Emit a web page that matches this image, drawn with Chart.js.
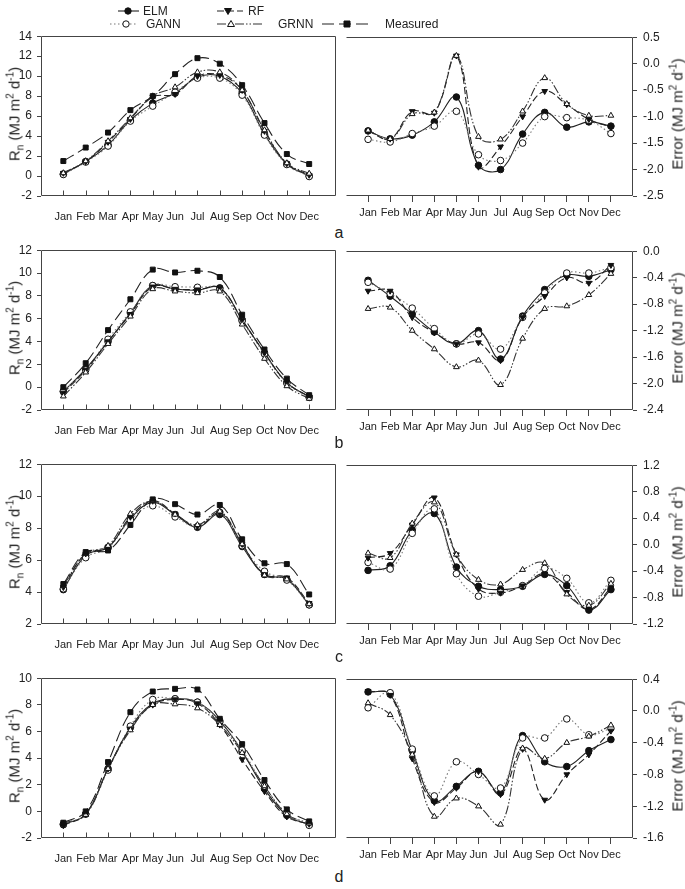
<!DOCTYPE html>
<html>
<head>
<meta charset="utf-8">
<script src="https://cdn.jsdelivr.net/npm/chart.js@4/dist/chart.umd.min.js"></script>
<style>
body { margin:0; background:#fff; }
#page { position:relative; width:685px; height:889px; font-family:"Liberation Sans", Arial, sans-serif; color:#222; overflow:hidden; }
#page canvas { position:absolute; }
.ytitle { position:absolute; transform:translate(-50%,-50%) rotate(-90deg); white-space:nowrap; font-size:15px; line-height:15px; }
.ytitle sub, .ytitle sup { font-size:10px; line-height:0; }
.tag { position:absolute; font-size:16px; transform:translate(-50%,-50%); }
.leg { position:absolute; font-size:12px; transform:translateY(-50%); }
</style>
</head>
<body>
<div id="page"></div>
<script>
var months = ["Jan","Feb","Mar","Apr","May","Jun","Jul","Aug","Sep","Oct","Nov","Dec"];

// panel a
var aRnMeasured = [1.5, 2.85, 4.35, 6.6, 8.0, 10.2, 11.8, 11.25, 9.1, 5.3, 2.2, 1.2];
var aRnELM      = [0.2, 1.45, 3.1, 5.6, 7.3, 8.3, 9.9, 10.0, 8.3, 4.2, 1.2, 0.0];
var aRnGANN     = [0.15, 1.4, 3.0, 5.5, 7.0, 8.4, 9.8, 9.8, 8.1, 4.1, 1.15, -0.05];
var aRnRF       = [0.3, 1.45, 3.4, 5.7, 7.9, 8.2, 10.0, 10.1, 8.6, 4.5, 1.25, 0.1];
var aRnGRNN     = [0.3, 1.5, 3.5, 5.8, 8.0, 8.9, 10.4, 10.4, 8.6, 4.6, 1.3, 0.25];
var aErrELM  = [-1.27, -1.42, -1.35, -1.1, -0.63, -1.92, -2.0, -1.33, -0.92, -1.2, -1.1, -1.18];
var aErrGANN = [-1.43, -1.48, -1.32, -1.18, -0.9, -1.72, -1.83, -1.5, -1.0, -1.02, -1.07, -1.32];
var aErrRF   = [-1.27, -1.42, -0.9, -0.93, 0.15, -1.95, -1.57, -1.0, -0.52, -0.77, -1.05, -1.2];
var aErrGRNN = [-1.26, -1.42, -0.95, -0.92, 0.15, -1.38, -1.43, -0.9, -0.27, -0.76, -0.98, -0.98];
var aRnTicks = [-2, 14, 2];
var aErrTicks = [-2.5, 0.5, 0.5];

// panel b
var bRnMeasured = [0.0, 2.1, 5.0, 7.7, 10.3, 10.05, 10.2, 9.65, 6.35, 3.3, 0.75, -0.7];
var bRnELM      = [-0.4, 1.6, 4.0, 6.5, 8.9, 8.6, 8.5, 8.7, 5.9, 3.0, 0.4, -0.85];
var bRnGANN     = [-0.35, 1.5, 4.2, 6.6, 8.9, 8.8, 8.75, 8.6, 5.8, 2.9, 0.35, -0.9];
var bRnRF       = [-0.5, 1.5, 4.0, 6.4, 8.8, 8.6, 8.55, 8.7, 5.9, 3.0, 0.4, -0.85];
var bRnGRNN     = [-0.8, 1.3, 3.8, 6.2, 8.6, 8.4, 8.25, 8.4, 5.5, 2.5, 0.1, -1.0];
var bErrELM  = [-0.44, -0.68, -0.95, -1.22, -1.4, -1.2, -1.63, -0.98, -0.58, -0.36, -0.38, -0.28];
var bErrGANN = [-0.47, -0.64, -0.86, -1.17, -1.4, -1.25, -1.48, -1.0, -0.63, -0.33, -0.33, -0.25];
var bErrRF   = [-0.6, -0.6, -1.0, -1.23, -1.4, -1.38, -1.65, -1.0, -0.68, -0.4, -0.48, -0.21];
var bErrGRNN = [-0.87, -0.85, -1.2, -1.48, -1.75, -1.65, -2.02, -1.32, -0.87, -0.83, -0.66, -0.34];
var bRnTicks = [-2, 12, 2];
var bErrTicks = [-2.4, 0.0, 0.4];

// panel c
var cRnMeasured = [4.5, 6.5, 6.6, 8.2, 9.8, 9.5, 8.85, 9.45, 7.3, 5.8, 5.75, 3.85];
var cRnELM      = [4.15, 6.3, 6.8, 8.6, 9.6, 8.85, 8.05, 8.85, 6.85, 5.1, 4.8, 3.2];
var cRnGANN     = [4.2, 6.15, 6.75, 8.5, 9.4, 8.7, 8.1, 9.0, 6.9, 5.3, 4.75, 3.2];
var cRnRF       = [4.3, 6.4, 6.8, 8.7, 9.7, 8.9, 8.1, 8.95, 7.0, 5.1, 4.9, 3.3];
var cRnGRNN     = [4.4, 6.4, 6.9, 8.9, 9.7, 8.85, 8.2, 9.05, 7.0, 5.05, 4.8, 3.25];
var cErrELM  = [-0.39, -0.32, 0.22, 0.47, -0.34, -0.63, -0.68, -0.63, -0.45, -0.62, -0.99, -0.68];
var cErrGANN = [-0.27, -0.37, 0.17, 0.54, -0.44, -0.78, -0.72, -0.62, -0.36, -0.51, -0.88, -0.54];
var cErrRF   = [-0.2, -0.13, 0.3, 0.71, -0.15, -0.67, -0.73, -0.62, -0.44, -0.72, -0.98, -0.65];
var cErrGRNN = [-0.13, -0.2, 0.32, 0.64, -0.15, -0.53, -0.6, -0.38, -0.28, -0.75, -0.92, -0.59];
var cRnTicks = [2, 12, 2];
var cErrTicks = [-1.2, 1.2, 0.4];

// panel d
var dRnMeasured = [-0.85, 0.0, 3.7, 7.45, 9.0, 9.2, 9.15, 6.95, 5.05, 2.35, 0.15, -0.75];
var dRnELM      = [-1.0, -0.2, 3.2, 6.3, 8.1, 8.45, 8.2, 6.8, 4.5, 1.7, -0.3, -1.0];
var dRnGANN     = [-0.95, -0.2, 3.1, 6.4, 8.4, 8.45, 8.2, 6.7, 4.6, 1.9, -0.15, -1.05];
var dRnRF       = [-1.05, -0.2, 3.2, 6.2, 8.0, 8.4, 8.1, 6.5, 3.9, 1.5, -0.4, -0.95];
var dRnGRNN     = [-0.9, -0.25, 3.2, 6.1, 8.0, 8.05, 7.75, 6.5, 4.4, 1.9, -0.2, -0.9];
var dErrELM  = [0.24, 0.21, -0.5, -1.13, -0.95, -0.76, -1.03, -0.31, -0.64, -0.7, -0.5, -0.36];
var dErrGANN = [0.04, 0.23, -0.48, -1.07, -0.64, -0.8, -0.97, -0.34, -0.34, -0.1, -0.3, -0.22];
var dErrRF   = [0.25, 0.2, -0.6, -1.15, -0.97, -0.76, -1.05, -0.48, -1.12, -0.8, -0.55, -0.25];
var dErrGRNN = [0.1, -0.05, -0.55, -1.33, -1.1, -1.2, -1.43, -0.47, -0.6, -0.4, -0.32, -0.18];
var dRnTicks = [-2, 10, 2];
var dErrTicks = [-1.6, 0.4, 0.4];

var ink = "#222";
var styles = {
  ELM:      {dash: [], pt: "circle", fill: "#111", rot: 0, line: "#222"},
  GANN:     {dash: [1.5, 2.5], pt: "circle", fill: "#fff", rot: 0, line: "#777"},
  RF:       {dash: [7, 3], pt: "triangle", fill: "#111", rot: 180, line: "#222"},
  GRNN:     {dash: [9, 2, 1.5, 2, 1.5, 2], pt: "triangle", fill: "#fff", rot: 0, line: "#333"},
  Measured: {dash: [12, 5], pt: "rect", fill: "#111", rot: 0, line: "#222"}
};

var page = document.getElementById("page");
var PH = 164, PADT = 8, XH = 28;

// box round the plot, plus inward x ticks on the left panels
var frame = {
  id: "frame",
  afterDraw: function (chart, args, opts) {
    var a = chart.chartArea, c = chart.ctx;
    var l = Math.round(a.left) + 0.5, r = Math.round(a.right) - 0.5;
    var t = Math.round(a.top) + 0.5, b = Math.round(a.bottom) - 0.5;
    c.save();
    c.strokeStyle = "#444";
    c.lineWidth = 1;
    c.beginPath();
    c.moveTo(l, t); c.lineTo(r, t); c.lineTo(r, b); c.lineTo(l, b);
    if (opts.leftSide) c.lineTo(l, t);
    c.stroke();
    if (opts.innerTicks) {
      var xs = chart.scales.x;
      c.beginPath();
      for (var i = 1; i <= 12; i++) {
        var px = Math.round(xs.getPixelForValue(i)) + 0.5;
        c.moveTo(px, b); c.lineTo(px, b - 5);
      }
      c.stroke();
    }
    c.restore();
  }
};

function addText(cls, html, x, y) {
  var d = document.createElement("div");
  d.className = cls;
  d.innerHTML = html;
  d.style.left = x + "px";
  d.style.top = y + "px";
  page.appendChild(d);
}

function makePanel(left, top, width, isLeft, series, names, ticks) {
  var cv = document.createElement("canvas");
  cv.width = width;
  cv.height = PADT + PH + XH;
  cv.style.left = left + "px";
  cv.style.top = (top - PADT) + "px";
  page.appendChild(cv);

  var sets = names.map(function (n, k) {
    var s = styles[n];
    return {
      label: n,
      data: series[k].map(function (v, i) { return {x: i + 1, y: v}; }),
      borderColor: s.line,
      borderWidth: 1.1,
      borderDash: s.dash,
      tension: 0.4,
      pointStyle: s.pt,
      pointRotation: s.rot,
      pointRadius: s.pt === "rect" ? 3.5 : 3.3,
      pointBackgroundColor: s.fill,
      pointBorderColor: "#111",
      pointBorderWidth: 1
    };
  });

  new Chart(cv, {
    type: "line",
    data: {datasets: sets},
    options: {
      responsive: false,
      animation: false,
      events: [],
      layout: {padding: {top: PADT, left: 0, right: 0, bottom: 0}},
      plugins: {legend: {display: false}, tooltip: {enabled: false},
                frame: {leftSide: isLeft, innerTicks: isLeft}},
      scales: {
        x: {
          type: "linear",
          min: 0,
          max: isLeft ? 13.2 : 13,
          afterBuildTicks: function (ax) {
            ax.ticks = months.map(function (m, i) { return {value: i + 1}; });
          },
          afterFit: function (ax) { ax.height = XH; },
          border: {display: false},
          grid: {display: !isLeft, drawOnChartArea: false, drawTicks: true, tickLength: 6, color: "#444"},
          ticks: {
            autoSkip: false, maxRotation: 0, padding: isLeft ? 8 : 4,
            color: ink, font: {family: "'Liberation Sans', Arial, sans-serif", size: 11},
            callback: function (v) { return months[v - 1]; }
          }
        },
        y: {
          position: isLeft ? "left" : "right",
          min: ticks[0],
          max: ticks[1],
          afterFit: function (ax) { ax.width = isLeft ? 41 : 52; },
          border: {display: false},
          grid: {drawOnChartArea: false, drawTicks: true, tickLength: 4, color: "#444"},
          ticks: {
            stepSize: ticks[2],
            padding: isLeft ? 5 : 6,
            color: ink, font: {family: "'Liberation Sans', Arial, sans-serif", size: 12},
            callback: function (v) { return isLeft ? String(Math.round(v)) : (Math.round(v * 10) / 10).toFixed(1); }
          }
        }
      }
    },
    plugins: [frame]
  });
}

var rnNames = ["Measured", "GRNN", "RF", "GANN", "ELM"];
var errNames = ["GRNN", "RF", "GANN", "ELM"];

var rows = [
  {top: 32,  tag: "a", tagY: 233, rn: [aRnMeasured, aRnGRNN, aRnRF, aRnGANN, aRnELM], err: [aErrGRNN, aErrRF, aErrGANN, aErrELM], rt: aRnTicks, et: aErrTicks},
  {top: 246, tag: "b", tagY: 443, rn: [bRnMeasured, bRnGRNN, bRnRF, bRnGANN, bRnELM], err: [bErrGRNN, bErrRF, bErrGANN, bErrELM], rt: bRnTicks, et: bErrTicks},
  {top: 460, tag: "c", tagY: 657, rn: [cRnMeasured, cRnGRNN, cRnRF, cRnGANN, cRnELM], err: [cErrGRNN, cErrRF, cErrGANN, cErrELM], rt: cRnTicks, et: cErrTicks},
  {top: 674, tag: "d", tagY: 877, rn: [dRnMeasured, dRnGRNN, dRnRF, dRnGANN, dRnELM], err: [dErrGRNN, dErrRF, dErrGANN, dErrELM], rt: dRnTicks, et: dErrTicks}
];

rows.forEach(function (r) {
  makePanel(0, r.top, 341, true, r.rn, rnNames, r.rt);
  makePanel(341, r.top, 344, false, r.err, errNames, r.et);
  addText("ytitle", "R<sub>n</sub> (MJ m<sup>2</sup> d<sup>-1</sup>)", 14, r.top + PH / 2);
  addText("ytitle", "Error (MJ m<sup>2</sup> d<sup>-1</sup>)", 677, r.top + PH / 2);
  addText("tag", r.tag, 339, r.tagY);
});

// legend
var lg = document.createElement("canvas");
lg.width = 685; lg.height = 32;
lg.style.left = "0px"; lg.style.top = "0px";
page.appendChild(lg);
var lc = lg.getContext("2d");

function sample(name, x1, x2, mx, y) {
  var s = styles[name];
  lc.save();
  lc.strokeStyle = s.line;
  lc.lineWidth = 1.1;
  lc.setLineDash(s.dash);
  lc.beginPath(); lc.moveTo(x1, y); lc.lineTo(x2, y); lc.stroke();
  lc.setLineDash([]);
  lc.fillStyle = s.fill;
  lc.strokeStyle = "#111";
  lc.lineWidth = 1;
  lc.beginPath();
  if (s.pt === "circle") {
    lc.arc(mx, y, 3.2, 0, Math.PI * 2);
  } else if (s.pt === "rect") {
    lc.rect(mx - 3, y - 3, 6, 6);
  } else if (s.rot === 180) {
    lc.moveTo(mx - 3.5, y - 2.5); lc.lineTo(mx + 3.5, y - 2.5); lc.lineTo(mx, y + 3.5); lc.closePath();
  } else {
    lc.moveTo(mx - 3.5, y + 2.5); lc.lineTo(mx + 3.5, y + 2.5); lc.lineTo(mx, y - 3.5); lc.closePath();
  }
  lc.fill(); lc.stroke();
  lc.restore();
}

sample("ELM", 118, 139, 128, 11);
sample("RF", 217, 243, 228, 11);
sample("GANN", 110, 137, 126, 24);
sample("GRNN", 217, 263, 231, 24);
sample("Measured", 322, 368, 347, 24);
addText("leg", "ELM", 143, 11);
addText("leg", "RF", 248, 11);
addText("leg", "GANN", 146, 24);
addText("leg", "GRNN", 278, 24);
addText("leg", "Measured", 385, 24);
</script>
</body>
</html>
